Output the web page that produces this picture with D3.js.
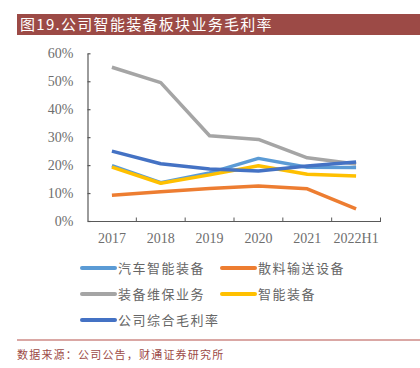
<!DOCTYPE html>
<html><head><meta charset="utf-8">
<script src="https://cdn.jsdelivr.net/npm/d3@7"></script>
<style>html,body{margin:0;padding:0;background:#fff;}svg{display:block;}</style>
</head><body>
<svg id="c" width="420" height="368"></svg>
<script>
const title = "图19.公司智能装备板块业务毛利率";
const source = "数据来源：公司公告，财通证券研究所";
const categories = ["2017","2018","2019","2020","2021","2022H1"];
const yTicks = [0,0.1,0.2,0.3,0.4,0.5,0.6];
const seriesNames = ["汽车智能装备","散料输送设备","装备维保业务","智能装备","公司综合毛利率"];
const seriesColors = ["#5b9bd5","#ed7d31","#a5a5a5","#ffc000","#4472c4"];
const autoEquip = [0.198,0.137,0.172,0.224,0.192,0.191];
const bulkConveyor = [0.092,0.105,0.116,0.125,0.115,0.043];
const maintenance = [0.550,0.495,0.305,0.292,0.226,0.204];
const smartEquip = [0.193,0.135,0.165,0.198,0.167,0.161];
const composite = [0.250,0.205,0.186,0.179,0.197,0.211];
const seriesValues = [autoEquip,bulkConveyor,maintenance,smartEquip,composite];
const drawOrder = [2,0,3,4,1];

const svg = d3.select("#c");
// title bar
svg.append("rect").attr("x",17).attr("y",14).attr("width",403).attr("height",21).attr("fill","#9c4a46");
svg.append("text").attr("x",20).attr("y",30).attr("fill","#fff")
  .attr("font-family","'Noto Sans CJK SC',sans-serif").attr("font-size",15).attr("letter-spacing",1.3).text(title);

const x = d3.scaleBand().domain(categories).range([87.5,380.5]);
const y = d3.scaleLinear().domain([0,0.6]).range([221,53.3]);
const axisColor = "#595959";
const serif = "'Liberation Serif','DejaVu Serif',serif";

const ya = svg.append("g").attr("transform","translate(87.5,0)")
  .call(d3.axisLeft(y).tickValues(yTicks).tickFormat(d3.format(".0%")).tickSizeInner(-3).tickSizeOuter(0).tickPadding(14));
const xa = svg.append("g").attr("transform","translate(0,221)")
  .call(d3.axisBottom(x).tickSizeInner(0).tickSizeOuter(0).tickPadding(12));
// boundary ticks on x axis (between categories)
const bounds = categories.map(c=>x(c)+x.bandwidth());
svg.append("g").selectAll("line").data(bounds).join("line")
  .attr("x1",d=>d).attr("x2",d=>d).attr("y1",221).attr("y2",217.5)
  .attr("stroke",axisColor).attr("stroke-width",1);
[ya,xa].forEach(g=>{
  g.selectAll("path,line").attr("stroke",axisColor).attr("stroke-width",1.2);
  g.selectAll("text").attr("fill","#6e6e6e").attr("font-family",serif).attr("font-size",14);
});

const line = d3.line().x((d,i)=>x(categories[i])+x.bandwidth()/2).y(d=>y(d));
drawOrder.forEach(k=>{
  svg.append("path").datum(seriesValues[k]).attr("d",line)
    .attr("fill","none").attr("stroke",seriesColors[k]).attr("stroke-width",3.5)
    .attr("stroke-linejoin","round");
});

// legend
const legPos = [[82,268],[222,268],[82,294],[222,294],[82,320]];
const lg = svg.append("g");
seriesNames.forEach((n,i)=>{
  const [lx,ly]=legPos[i];
  lg.append("line").attr("x1",lx).attr("x2",lx+33).attr("y1",ly).attr("y2",ly)
    .attr("stroke",seriesColors[i]).attr("stroke-width",4).attr("stroke-linecap","round");
  lg.append("text").attr("x",lx+36).attr("y",ly+5).attr("fill","#666")
    .attr("font-family","'Noto Sans CJK SC',sans-serif").attr("font-size",13).attr("letter-spacing",1.5).text(n);
});

svg.append("line").attr("x1",17).attr("x2",420).attr("y1",340).attr("y2",340).attr("stroke","#b5504b").attr("stroke-width",1);
svg.append("text").attr("x",17).attr("y",359).attr("fill","#9c4a46")
  .attr("font-family","'Noto Sans CJK SC',sans-serif").attr("font-size",11).attr("letter-spacing",1.2).text(source);
</script>
</body></html>
